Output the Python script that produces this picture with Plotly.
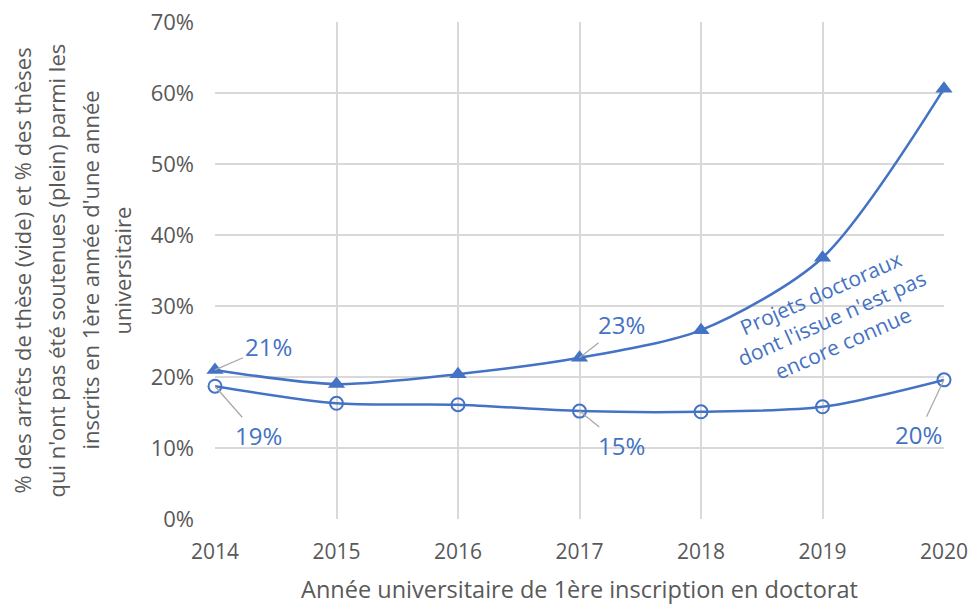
import plotly.graph_objects as go

years = [2014, 2015, 2016, 2017, 2018, 2019, 2020]
non_soutenues = [21.0, 19.0, 20.4, 22.7, 26.6, 36.8, 60.6]
arrets = [18.7, 16.3, 16.1, 15.2, 15.1, 15.8, 19.6]
y_ticks = [0, 10, 20, 30, 40, 50, 60, 70]
y_tick_labels = [f"{v}%" for v in y_ticks]
y_title_lines = [
    "% des arrêts de thèse (vide) et % des thèses",
    "qui n'ont pas été soutenues (plein) parmi les",
    "inscrits en 1ère année d'une année",
    "universitaire",
]

BLUE = "#4472C4"
GRAY = "#595959"
FONT = "Open Sans"

W, H = 972, 605
L, R, T, B = 215, 28, 22, 86
PW = W - L - R

fig = go.Figure()
fig.add_trace(go.Scatter(
    x=years, y=non_soutenues, mode="lines+markers",
    line=dict(color=BLUE, width=2.5, shape="spline", smoothing=0.8),
    marker=dict(symbol="triangle-up", size=15, color=BLUE),
    cliponaxis=False, showlegend=False))
fig.add_trace(go.Scatter(
    x=years, y=arrets, mode="lines+markers",
    line=dict(color=BLUE, width=2.5, shape="spline", smoothing=0.8),
    marker=dict(symbol="circle-open", size=13, color=BLUE, line=dict(width=2)),
    cliponaxis=False, showlegend=False))

labels = [
    (2014, non_soutenues[0], "21%", 53, -23),
    (2014, arrets[0], "19%", 43, 49),
    (2017, non_soutenues[3], "23%", 42, -33),
    (2017, arrets[3], "15%", 42, 34),
    (2020, arrets[6], "20%", -26, 55),
]
for x, y, t, ax, ay in labels:
    fig.add_annotation(x=x, y=y, text=t, showarrow=True, arrowhead=0,
                       arrowcolor="#A6A6A6", arrowwidth=1.2, ax=ax, ay=ay,
                       font=dict(family=FONT, size=24, color=BLUE))

fig.add_annotation(xref="x", yref="y", x=2019.07, y=28.3,
                   text="Projets doctoraux<br>dont l'issue n'est pas<br>encore connue",
                   showarrow=False, textangle=-24,
                   font=dict(family=FONT, size=21, color=BLUE))

for px, line in zip([21, 55, 89, 121], y_title_lines):
    fig.add_annotation(xref="paper", yref="paper", x=(px - L) / PW, y=0.5,
                       text=line, showarrow=False, textangle=-90,
                       xanchor="center", yanchor="middle",
                       font=dict(family=FONT, size=22, color=GRAY))

fig.update_layout(
    width=W, height=H,
    margin=dict(l=L, r=R, t=T, b=B),
    paper_bgcolor="white", plot_bgcolor="white",
    font=dict(family=FONT, color=GRAY),
    xaxis=dict(range=[2014, 2020], tickvals=years, ticktext=[str(y) for y in years],
               showgrid=True, gridcolor="#D9D9D9", gridwidth=1.5,
               zeroline=False, showline=False, ticks="", automargin=False,
               tickfont=dict(size=21, color=GRAY), ticklabelstandoff=18,
               title=dict(text="Année universitaire de 1ère inscription en doctorat",
                          font=dict(size=23.5, color=GRAY), standoff=18)),
    yaxis=dict(range=[0, 70], tickvals=y_ticks, ticktext=y_tick_labels,
               showgrid=True, gridcolor="#D9D9D9", gridwidth=1.5,
               zeroline=False, showline=False, ticks="", automargin=False,
               tickfont=dict(size=22, color=GRAY), ticklabelstandoff=20),
)

fig.write_html("out.html", config={"displayModeBar": False},
               post_script="document.body.style.margin='0px';document.body.style.overflow='hidden';")
